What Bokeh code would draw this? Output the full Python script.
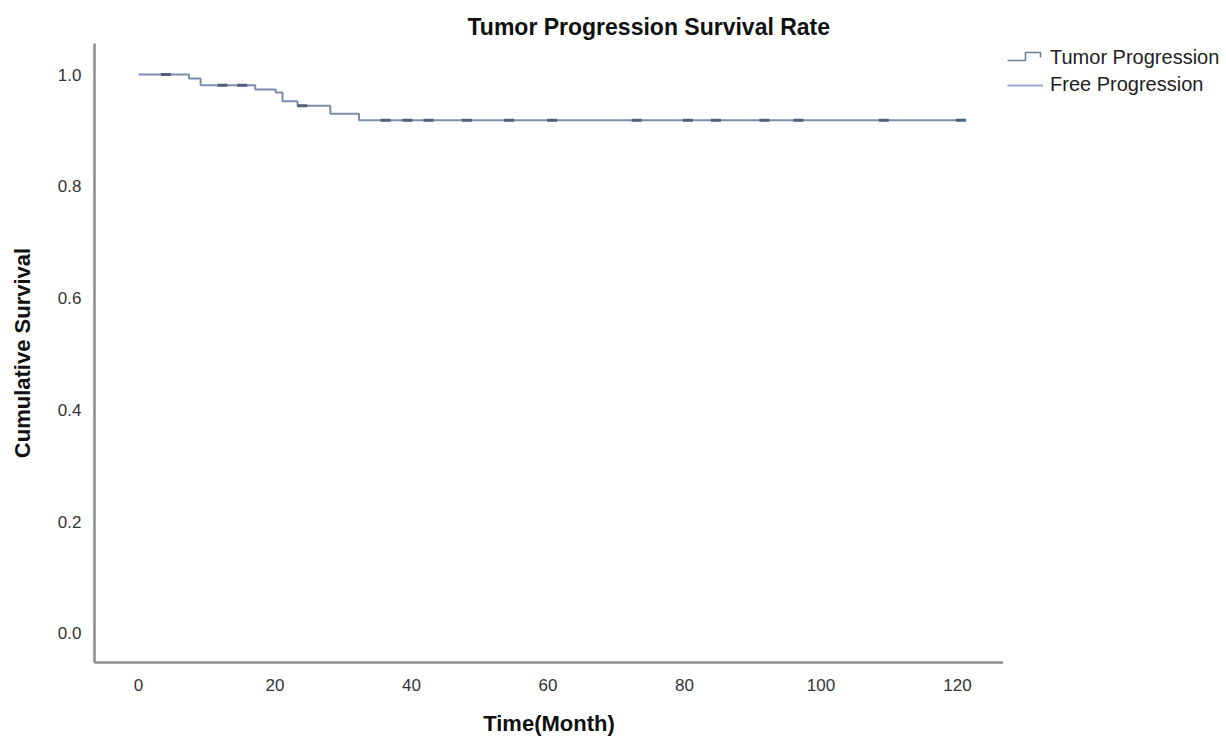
import numpy as np
from bokeh.plotting import figure
from bokeh.layouts import row
from bokeh.models import (Range1d, FixedTicker, Legend, LegendItem,
                          ColumnDataSource, CustomJSTickFormatter)
from bokeh.embed import file_html
from bokeh.resources import INLINE

# ---- data ----
step_times = [0, 7.4, 9.1, 17.1, 20.1, 21.1, 23.3, 28.1, 32.3, 120.5]
survival = [1.0, 0.993, 0.981, 0.973, 0.968, 0.952, 0.944, 0.930, 0.918, 0.918]
censor_times = [4.0, 12.3, 15.2, 24.0, 36.2, 39.4, 42.5, 48.1, 54.3, 60.6,
                73.0, 80.5, 84.6, 91.7, 96.7, 109.2, 120.5]
x_ticks = [0, 20, 40, 60, 80, 100, 120]
y_ticks = [0.0, 0.2, 0.4, 0.6, 0.8, 1.0]
series_names = ["Tumor Progression", "Free Progression"]

idx = np.searchsorted(step_times, censor_times, side="right") - 1
censor_surv = [survival[i] for i in idx]

FONT = "Liberation Sans"
LINE_COL = "#7b8eaa"
CENS_COL = "#4e607c"
ICON_STEP = "#6b7f99"
ICON_FREE = "#93abcf"

# ---------------- main plot ----------------
p = figure(frame_width=909, frame_height=619, output_backend="svg", toolbar_location=None,
           x_range=Range1d(-6.45, 126.74), y_range=Range1d(-0.0519, 1.0555),
           min_border_left=94, min_border_right=0, min_border_top=43, min_border_bottom=75)
p.outline_line_color = None
p.grid.visible = False
p.background_fill_color = "white"
p.border_fill_color = "white"

p.title.text = "Tumor Progression Survival Rate"
p.title.text_font = FONT
p.title.text_font_size = "23px"
p.title.text_font_style = "bold"
p.title.text_color = "#111111"
p.title.align = "left"
p.title.offset = 373
p.title.standoff = 7

for ax in (p.xaxis[0], p.yaxis[0]):
    ax.axis_line_color = "#8c8c8c"
    ax.axis_line_width = 2.5
    ax.major_tick_line_color = None
    ax.minor_tick_line_color = None
    ax.major_label_text_font = FONT
    ax.major_label_text_font_size = "17px"
    ax.major_label_text_color = "#333333"
    ax.axis_label_text_font = FONT
    ax.axis_label_text_font_size = "22px"
    ax.axis_label_text_font_style = "bold"
    ax.axis_label_text_color = "#111111"

p.xaxis.ticker = FixedTicker(ticks=x_ticks)
p.yaxis.ticker = FixedTicker(ticks=y_ticks)
p.yaxis.formatter = CustomJSTickFormatter(code="return tick.toFixed(1);")
p.xaxis.major_label_standoff = 10
p.yaxis.major_label_standoff = 7
p.xaxis.axis_label = "Time(Month)"
p.yaxis.axis_label = "Cumulative Survival"
p.xaxis.axis_label_standoff = 17
p.yaxis.axis_label_standoff = 20

src = ColumnDataSource(dict(t=step_times, s=survival))
p.step("t", "s", source=src, mode="after", line_color=LINE_COL, line_width=2)
p.scatter(censor_times, censor_surv, marker="dash", size=10, line_color=CENS_COL,
          line_width=3)

# ---------------- legend panel (page-pixel coordinates, y downwards) ----------------
q = figure(frame_width=223, frame_height=619, output_backend="svg", toolbar_location=None,
           title=None, x_range=Range1d(1003, 1226), y_range=Range1d(662, 43),
           x_axis_type=None, y_axis_type=None,
           min_border_left=0, min_border_right=0, min_border_top=43, min_border_bottom=75)
q.outline_line_color = None
q.grid.visible = False
q.background_fill_color = "white"
q.border_fill_color = "white"

# step-shaped icon for "Tumor Progression"
q.line([1007, 1025, 1025, 1040, 1040], [60, 60, 52, 52, 57], line_color=ICON_STEP,
       line_width=1.6)
r_tumor = q.line([0, 1], [0, 0], line_alpha=0)
r_free = q.line([0, 1], [0, 0], line_color=ICON_FREE, line_width=2)
legend = Legend(items=[LegendItem(label=series_names[0], renderers=[r_tumor]),
                       LegendItem(label=series_names[1], renderers=[r_free])],
                location=(4, 662 - 96), glyph_width=36, glyph_height=20,
                label_height=20, spacing=4,
                padding=0, margin=0, border_line_color=None, background_fill_alpha=0,
                label_standoff=7, label_text_font=FONT, label_text_font_size="20px",
                label_text_color="#222222")
q.add_layout(legend, "center")

layout = row(p, q, spacing=0)
open("out.html", "w").write(file_html(layout, INLINE))
